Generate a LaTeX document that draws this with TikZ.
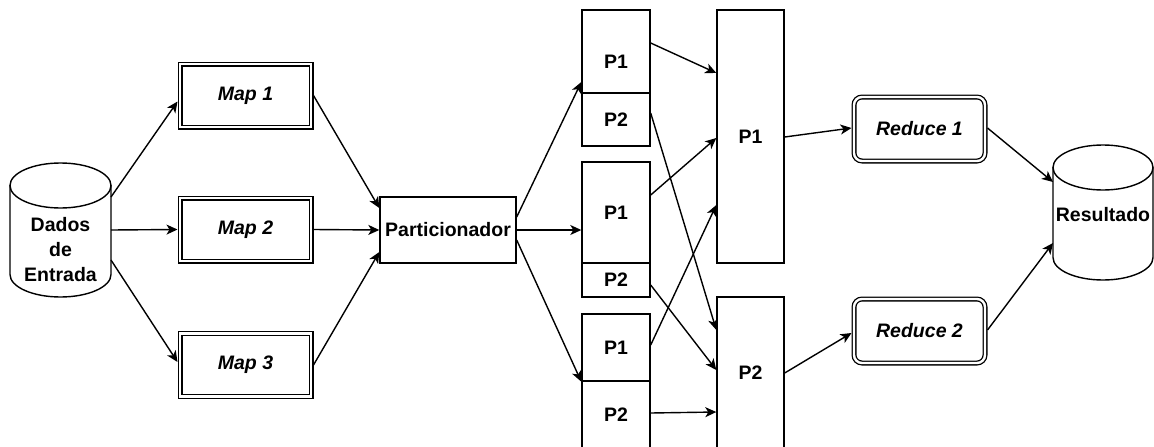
\documentclass[tikz,border=0pt]{standalone}
\usepackage{fontspec}
\setmainfont{Liberation Sans}
\usetikzlibrary{arrows.meta,calc}
\begin{document}
\begin{tikzpicture}[x=1pt,y=-1pt,
  every node/.style={font=\fontsize{19.5}{25}\selectfont\bfseries, align=center, inner sep=0pt, outer sep=0pt},
  flow/.style={line width=1.4pt, -{Stealth[length=11pt,width=10pt,inset=3pt]}},
  mapbox/.style={draw, line width=1.3pt, double, double distance=2.4pt, outer sep=2.5pt,
    minimum width=131pt, minimum height=63pt, fill=white,
    font=\fontsize{19.5}{25}\selectfont\bfseries\itshape},
  redbox/.style={mapbox, rounded corners=8pt, minimum height=64pt},
  cell/.style={draw, line width=1.4pt, fill=white, outer sep=0.7pt},
  colcell/.style={cell, minimum width=68pt},
  plainbox/.style={draw, line width=1.4pt, minimum width=136pt, minimum height=66pt, outer sep=0.7pt},
  drum/.style={draw, line width=1.4pt, fill=white}
]
\useasboundingbox (0,0) rectangle (1154,447);

% input data store
\node[minimum width=101pt, minimum height=134pt] (dados) at (60.5,230) {};
\path[drum] (10,185.5) -- (10,274.5) arc[start angle=180, end angle=0, x radius=50.5, y radius=22.5]
  -- (111,185.5) -- cycle;
\draw[drum] (60.5,185.5) ellipse [x radius=50.5, y radius=22.5];
\node (dadoslbl) at (60.5,250) {Dados\\de\\Entrada};

% map tasks
\node[mapbox] (map1) at (245.5,95.5) {Map 1};
\node[mapbox] (map2) at (245.5,229.5) {Map 2};
\node[mapbox] (map3) at (245.5,365) {Map 3};

% partitioner
\node[plainbox] (part) at (448,230) {Particionador};

% partitions emitted by each map
\node[colcell, minimum height=83pt] (t1) at (616,51.5) {};
\node (t1lbl) at (616,62) {P1};
\node[colcell, minimum height=53pt] (t2) at (616,119.5) {P2};
\node[colcell, minimum height=101pt] (m1) at (616,212.5) {P1};
\node[colcell, minimum height=34pt] (m2) at (616,280) {P2};
\node[colcell, minimum height=67pt] (b1) at (616,347.5) {P1};
\node[colcell, minimum height=68pt] (b2) at (616,415) {P2};

% grouped partitions
\node[cell, minimum width=67pt, minimum height=253pt] (c1) at (750.5,136.5) {P1};
\node[cell, minimum width=67pt, minimum height=152pt] (c2) at (750.5,373) {P2};

% reduce tasks
\node[redbox] (red1) at (919.5,129) {Reduce 1};
\node[redbox] (red2) at (919.5,331) {Reduce 2};

% output store
\node[minimum width=100pt, minimum height=135pt] (res) at (1103,212.5) {};
\path[drum] (1053,167.5) -- (1053,257.5) arc[start angle=180, end angle=0, x radius=50, y radius=22.5]
  -- (1153,167.5) -- cycle;
\draw[drum] (1103,167.5) ellipse [x radius=50, y radius=22.5];
\node (reslbl) at (1103,215) {Resultado};

% input to maps
\draw[flow] (dados.east |- 0,197) -- ($(map1.west)+(0,6)$);
\draw[flow] (dados.east) -- (map2.west);
\draw[flow] (dados.east |- 0,260) -- ($(map3.west)+(0,-3)$);

% maps to partitioner
\draw[flow] (map1.east) -- ($(part.west)+(0,-22)$);
\draw[flow] (map2.east) -- (part.west);
\draw[flow] (map3.east) -- ($(part.west)+(0,22)$);

% partitioner to map outputs
\draw[flow] ($(part.east)+(0,-13)$) -- (t1.west |- 0,82);
\draw[flow] (part.east) -- (m1.west |- 0,230);
\draw[flow] ($(part.east)+(0,10)$) -- (b1.south west);

% shuffle
\draw[flow] (t1.east |- 0,43) -- (c1.west |- 0,73);
\draw[flow] (t2.east |- 0,113) -- (c2.west |- 0,330);
\draw[flow] (m1.east |- 0,195) -- (c1.west |- 0,138);
\draw[flow] (m2.east |- 0,285) -- (c2.west |- 0,370);
\draw[flow] (b1.east |- 0,345) -- (c1.west |- 0,205);
\draw[flow] (b2.east |- 0,413) -- (c2.west |- 0,412);

% grouped partitions to reducers
\draw[flow] (c1.east |- 0,137) -- ($(red1.west)+(0,-1)$);
\draw[flow] (c2.east |- 0,373) -- ($(red2.west)+(0,2)$);

% reducers to output
\draw[flow] ($(red1.east)+(0,-1)$) -- (res.west |- 0,182);
\draw[flow] ($(red2.east)+(0,-1)$) -- (res.west |- 0,243);
\end{tikzpicture}
\end{document}
